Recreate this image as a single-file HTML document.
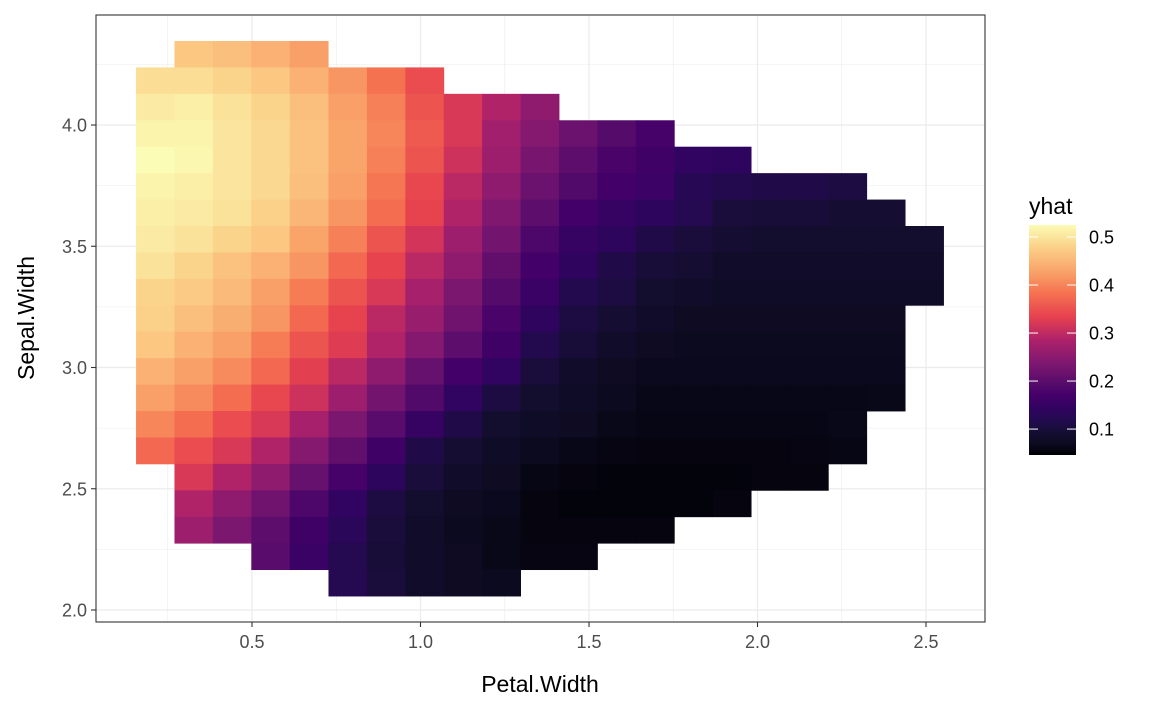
<!DOCTYPE html>
<html><head><meta charset="utf-8"><style>
html,body{margin:0;padding:0;background:#fff;}
svg{display:block;font-family:"Liberation Sans",Arial,sans-serif;}
</style></head><body>
<svg id="chart" width="1152" height="711" viewBox="0 0 1152 711" xmlns="http://www.w3.org/2000/svg">
<defs>
<linearGradient id="magmaGrad" x1="0" y1="1" x2="0" y2="0"></linearGradient>
</defs>
<rect x="0" y="0" width="1152" height="711" fill="#fff"/>
<g id="grid"></g>
<g id="cells"></g>
<rect x="96" y="15" width="889" height="607" fill="none" stroke="#333" stroke-width="1.1"/>
<g id="xaxis"></g>
<g id="yaxis"></g>
<text x="540" y="692" text-anchor="middle" font-size="23" fill="#000">Petal.Width</text>
<text transform="translate(34,318) rotate(-90)" text-anchor="middle" font-size="23" fill="#000">Sepal.Width</text>
<g id="legend">
<text x="1029" y="214" font-size="23" fill="#000">yhat</text>
</g>
</svg>
<script>
var xValues = [0.213,0.327,0.441,0.555,0.669,0.784,0.898,1.012,1.126,1.240,1.354,1.468,1.582,1.696,1.810,1.924,2.039,2.153,2.267,2.381,2.495];
var yValues = [4.292,4.183,4.074,3.965,3.856,3.747,3.638,3.529,3.420,3.311,3.202,3.093,2.984,2.875,2.766,2.657,2.548,2.439,2.330,2.221,2.112];
var rowStartCol = [1,0,0,0,0,0,0,0,0,0,0,0,0,0,0,0,1,1,1,3,5];
var yhatRows = [
[.468,.459,.444,.425],
[.492,.492,.482,.468,.444,.416,.383,.345],
[.506,.511,.497,.482,.459,.425,.397,.354,.321,.288,.254],
[.516,.516,.501,.487,.463,.430,.402,.359,.321,.273,.245,.216,.193,.174],
[.525,.520,.501,.487,.463,.430,.397,.354,.311,.269,.231,.202,.178,.164,.145,.140],
[.516,.511,.501,.487,.459,.425,.387,.340,.297,.254,.216,.188,.169,.159,.126,.117,.112,.112,.107],
[.511,.506,.497,.478,.449,.416,.378,.335,.288,.240,.202,.169,.150,.136,.121,.102,.098,.098,.093,.093],
[.506,.497,.482,.468,.430,.397,.354,.316,.269,.226,.183,.150,.136,.112,.102,.093,.088,.088,.088,.088,.088],
[.497,.482,.463,.444,.416,.373,.335,.297,.254,.207,.169,.140,.112,.098,.093,.083,.083,.083,.083,.083,.083],
[.482,.473,.454,.425,.392,.354,.321,.278,.235,.193,.155,.117,.107,.088,.083,.079,.079,.079,.079,.079,.079],
[.478,.459,.440,.416,.373,.335,.297,.264,.221,.178,.140,.107,.093,.083,.074,.074,.074,.074,.074,.074],
[.468,.444,.425,.392,.354,.326,.288,.245,.202,.164,.117,.098,.083,.074,.069,.069,.069,.069,.069,.069],
[.444,.425,.406,.373,.330,.297,.254,.212,.169,.145,.102,.083,.074,.067,.067,.067,.067,.067,.067,.067],
[.425,.406,.378,.340,.311,.269,.226,.188,.145,.107,.088,.079,.069,.062,.062,.062,.062,.062,.062,.064],
[.402,.378,.345,.321,.278,.235,.197,.150,.112,.088,.079,.074,.064,.060,.060,.060,.060,.060,.064],
[.373,.345,.321,.288,.245,.207,.164,.112,.093,.079,.069,.062,.057,.055,.055,.055,.055,.057,.060],
[.321,.288,.254,.212,.174,.136,.102,.083,.074,.060,.055,.052,.052,.052,.052,.055,.055],
[.288,.254,.221,.183,.145,.107,.088,.074,.067,.055,.052,.052,.052,.052,.055],
[.269,.235,.202,.164,.131,.102,.083,.069,.064,.055,.055,.055,.055],
[.197,.155,.121,.098,.083,.074,.064,.057,.057],
[.121,.102,.083,.074,.069]
];
var xTicks = [0.5,1.0,1.5,2.0,2.5];
var xTickLabels = ["0.5","1.0","1.5","2.0","2.5"];
var yTicks = [2.0,2.5,3.0,3.5,4.0];
var yTickLabels = ["2.0","2.5","3.0","3.5","4.0"];
var legendTicks = [0.1,0.2,0.3,0.4,0.5];
var legendTickLabels = ["0.1","0.2","0.3","0.4","0.5"];
var colorDomain = [0.046,0.525];
var cellW = 0.1141, cellH = 0.109;

var NS = "http://www.w3.org/2000/svg";
function xScale(v){ return 252 + (v - 0.5) * 337; }
function yScale(v){ return 125 + (4.0 - v) * 242.5; }
var stopPos = [0,0.05,0.1,0.15,0.2,0.26,0.3,0.4,0.5,0.6,0.7,0.8,0.9,1.0];
var stopCol = ["#000004","#0c0a20","#150e33","#230a4f","#300460","#450069","#520a6a","#7e1870","#ae216a","#e6414f","#f57050","#f9a46a","#fbcf87","#fbfcb5"];
function hex2rgb(h){ return [parseInt(h.substr(1,2),16),parseInt(h.substr(3,2),16),parseInt(h.substr(5,2),16)]; }
function magma(t){
  t = Math.max(0, Math.min(1, t));
  var i = 0;
  while (i < stopPos.length - 2 && t > stopPos[i+1]) i++;
  var f = (t - stopPos[i]) / (stopPos[i+1] - stopPos[i]);
  var a = hex2rgb(stopCol[i]), b = hex2rgb(stopCol[i+1]);
  return "rgb(" + [0,1,2].map(function(k){ return Math.round(a[k] + (b[k]-a[k]) * f); }).join(",") + ")";
}
function colorScale(v){ return magma((v - colorDomain[0]) / (colorDomain[1] - colorDomain[0])); }
function mk(tag, attrs, parent){
  var e = document.createElementNS(NS, tag);
  for (var k in attrs) e.setAttribute(k, attrs[k]);
  parent.appendChild(e); return e;
}

var grid = document.getElementById("grid");
[0.25,0.75,1.25,1.75,2.25].forEach(function(v){
  var l = mk("line", {x1:xScale(v), x2:xScale(v), y1:15, y2:622, stroke:"#ebebeb", "stroke-width":0.6}, grid);
  
  
});
[2.25,2.75,3.25,3.75,4.25].forEach(function(v){
  var l = mk("line", {x1:96, x2:985, y1:yScale(v), y2:yScale(v), stroke:"#ebebeb", "stroke-width":0.6}, grid);
  
  
});
xTicks.forEach(function(v){
  var l = mk("line", {x1:xScale(v), x2:xScale(v), y1:15, y2:622, stroke:"#ebebeb", "stroke-width":1.2}, grid);
  
  
});
yTicks.forEach(function(v){
  var l = mk("line", {x1:96, x2:985, y1:yScale(v), y2:yScale(v), stroke:"#ebebeb", "stroke-width":1.2}, grid);
  
  
});

var cells = document.getElementById("cells");
yhatRows.forEach(function(row, r){
  row.forEach(function(val, j){
    var c = rowStartCol[r] + j;
    var x0 = xScale(xValues[c] - cellW/2), x1 = xScale(xValues[c] + cellW/2);
    var y0 = yScale(yValues[r] + cellH/2), y1 = yScale(yValues[r] - cellH/2);
    var rc = mk("rect", {x:x0, y:y0, width:x1-x0+0.4, height:y1-y0+0.4, fill:colorScale(val)}, cells);
    
    
  });
});

var xa = document.getElementById("xaxis");
xTicks.forEach(function(v, i){
  var t = mk("line", {x1:xScale(v), x2:xScale(v), y1:622, y2:627, stroke:"#333", "stroke-width":1.1}, xa);
  
  
  var tx = mk("text", {x:xScale(v), y:648, "text-anchor":"middle", "font-size":18, fill:"#4d4d4d"}, xa);
  tx.textContent = xTickLabels[i];
  
  
});
var ya = document.getElementById("yaxis");
yTicks.forEach(function(v, i){
  var t = mk("line", {x1:91, x2:96, y1:yScale(v), y2:yScale(v), stroke:"#333", "stroke-width":1.1}, ya);
  
  
  var tx = mk("text", {x:87, y:yScale(v)+6.5, "text-anchor":"end", "font-size":18, fill:"#4d4d4d"}, ya);
  tx.textContent = yTickLabels[i];
  
  
});

var grad = document.getElementById("magmaGrad");
stopPos.forEach(function(p, i){
  mk("stop", {offset:(p*100)+"%", "stop-color":stopCol[i]}, grad);
});
var lg = document.getElementById("legend");
var barTop = 225, barBot = 455;
function legY(v){ return barBot - (v - colorDomain[0]) / (colorDomain[1] - colorDomain[0]) * (barBot - barTop); }
var bar = mk("rect", {x:1029, y:barTop, width:47, height:barBot-barTop, fill:"url(#magmaGrad)"}, lg);


legendTicks.forEach(function(v, i){
  var y = legY(v);
  var a = mk("line", {x1:1029, x2:1038, y1:y, y2:y, stroke:"#fff", "stroke-width":1}, lg);
  
  
  var b = mk("line", {x1:1067, x2:1076, y1:y, y2:y, stroke:"#fff", "stroke-width":1}, lg);
  
  
  var tx = mk("text", {x:1089, y:y+6.5, "font-size":18, fill:"#000"}, lg);
  tx.textContent = legendTickLabels[i];
  
  
});
</script>
</body></html>
